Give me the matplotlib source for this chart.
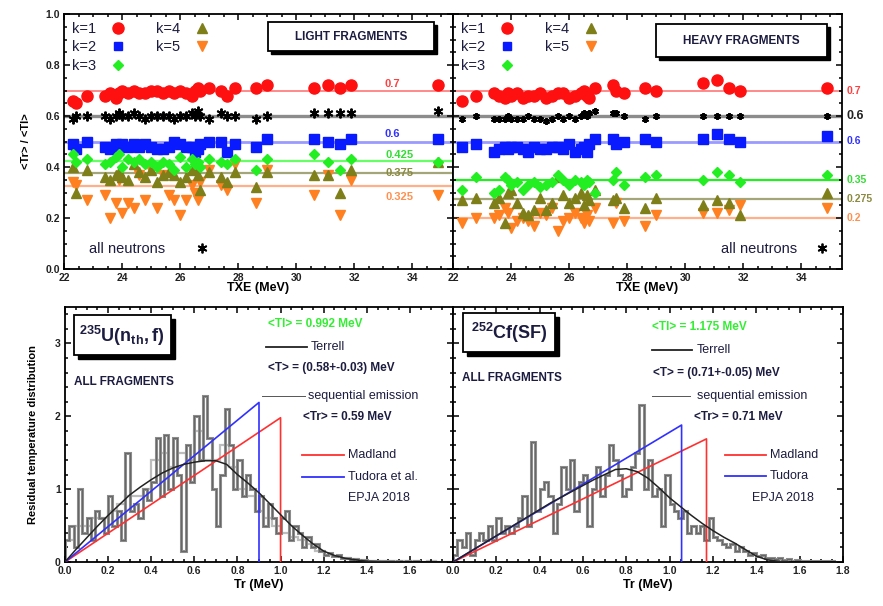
import numpy as np
import matplotlib
matplotlib.use('Agg')
import matplotlib.pyplot as plt
from matplotlib.lines import Line2D
from matplotlib.patches import Rectangle
from matplotlib.ticker import MultipleLocator, FormatStrFormatter

plt.rcParams['font.family'] = ['Liberation Sans', 'DejaVu Sans']
plt.rcParams['mathtext.fontset'] = 'custom'
plt.rcParams['mathtext.rm'] = 'Liberation Sans'
plt.rcParams['mathtext.bf'] = 'Liberation Sans:bold'

W, H = 883, 606

# ---------------- data: top panels (<Tr>/<Tl> vs TXE) ----------------
txe_light = [22.3, 22.4, 22.8, 23.4, 23.6, 23.8, 23.9, 24.0, 24.2, 24.4, 24.6, 24.8,
             25.0, 25.2, 25.4, 25.6, 25.8, 26.0, 26.2, 26.4, 26.5, 26.6, 26.7, 27.0,
             27.4, 27.6, 27.9, 28.6, 29.0, 30.6, 31.1, 31.5, 31.9, 34.9]
light_k1 = [0.66, 0.65, 0.68, 0.68, 0.69, 0.67, 0.69, 0.70, 0.69, 0.70, 0.69, 0.69,
            0.70, 0.70, 0.69, 0.70, 0.69, 0.70, 0.69, 0.68, 0.70, 0.71, 0.70, 0.71,
            0.70, 0.68, 0.71, 0.71, 0.72, 0.71, 0.72, 0.71, 0.72, 0.72]
light_k2 = [0.49, 0.47, 0.50, 0.48, 0.47, 0.49, 0.48, 0.49, 0.48, 0.49, 0.48, 0.49,
            0.48, 0.47, 0.47, 0.48, 0.50, 0.49, 0.48, 0.48, 0.46, 0.47, 0.49, 0.50,
            0.50, 0.46, 0.49, 0.48, 0.51, 0.51, 0.50, 0.49, 0.51, 0.51]
light_k3 = [0.45, 0.42, 0.43, 0.41, 0.42, 0.44, 0.45, 0.40, 0.43, 0.42, 0.43, 0.41,
            0.42, 0.40, 0.42, 0.41, 0.39, 0.44, 0.40, 0.43, 0.41, 0.42, 0.40, 0.43,
            0.42, 0.41, 0.43, 0.39, 0.43, 0.45, 0.42, 0.39, 0.43, 0.42]
light_k4 = [0.40, 0.30, 0.39, 0.36, 0.35, 0.37, 0.38, 0.36, 0.35, 0.41, 0.38, 0.36,
            0.39, 0.34, 0.37, 0.38, 0.37, 0.34, 0.36, 0.39, 0.40, 0.37, 0.31, 0.38,
            0.36, 0.34, 0.38, 0.32, 0.38, 0.37, 0.37, 0.30, 0.39, 0.42]
light_k5 = [0.34, 0.33, 0.27, 0.29, 0.20, 0.26, 0.35, 0.22, 0.26, 0.24, 0.37, 0.27,
            0.39, 0.24, 0.37, 0.29, 0.27, 0.21, 0.27, 0.33, 0.30, 0.27, 0.34, 0.39,
            0.33, 0.31, 0.41, 0.26, 0.39, 0.29, 0.37, 0.21, 0.35, 0.29]
light_all = [0.59, 0.60, 0.60, 0.60, 0.59, 0.60, 0.61, 0.60, 0.60, 0.61, 0.60, 0.59,
             0.60, 0.60, 0.60, 0.60, 0.59, 0.60, 0.60, 0.61, 0.60, 0.62, 0.60, 0.59,
             0.61, 0.60, 0.60, 0.59, 0.60, 0.61, 0.61, 0.61, 0.61, 0.62]

txe_heavy = [22.3, 22.8, 23.4, 23.6, 23.8, 23.9, 24.0, 24.2, 24.4, 24.6, 24.8, 25.0,
             25.2, 25.4, 25.6, 25.8, 26.0, 26.2, 26.4, 26.5, 26.6, 26.7, 26.9, 27.5,
             27.6, 27.9, 28.6, 29.0, 30.6, 31.1, 31.5, 31.9, 34.9]
heavy_k1 = [0.66, 0.68, 0.69, 0.68, 0.67, 0.69, 0.68, 0.69, 0.67, 0.68, 0.68, 0.69,
            0.67, 0.68, 0.69, 0.69, 0.67, 0.68, 0.69, 0.70, 0.68, 0.67, 0.71, 0.72,
            0.70, 0.69, 0.71, 0.70, 0.73, 0.74, 0.71, 0.70, 0.71]
heavy_k2 = [0.48, 0.49, 0.46, 0.47, 0.48, 0.47, 0.48, 0.48, 0.47, 0.46, 0.48, 0.47,
            0.47, 0.48, 0.48, 0.47, 0.49, 0.46, 0.47, 0.48, 0.46, 0.49, 0.51, 0.51,
            0.49, 0.50, 0.51, 0.50, 0.51, 0.53, 0.51, 0.50, 0.52]
heavy_k3 = [0.31, 0.36, 0.30, 0.31, 0.36, 0.35, 0.33, 0.34, 0.31, 0.33, 0.34, 0.32,
            0.33, 0.34, 0.37, 0.35, 0.33, 0.35, 0.34, 0.33, 0.35, 0.34, 0.30, 0.35,
            0.38, 0.33, 0.36, 0.37, 0.35, 0.38, 0.37, 0.34, 0.37]
heavy_k4 = [0.27, 0.28, 0.26, 0.28, 0.18, 0.30, 0.31, 0.26, 0.22, 0.21, 0.23, 0.28,
            0.23, 0.26, 0.36, 0.29, 0.26, 0.28, 0.30, 0.25, 0.29, 0.27, 0.31, 0.27,
            0.28, 0.24, 0.24, 0.28, 0.25, 0.27, 0.26, 0.21, 0.30]
heavy_k5 = [0.18, 0.20, 0.20, 0.21, 0.24, 0.22, 0.16, 0.19, 0.20, 0.19, 0.17, 0.22,
            0.21, 0.24, 0.15, 0.19, 0.20, 0.22, 0.20, 0.18, 0.21, 0.19, 0.24, 0.18,
            0.26, 0.19, 0.17, 0.21, 0.22, 0.22, 0.23, 0.25, 0.24]
heavy_all = [0.59, 0.60, 0.59, 0.59, 0.59, 0.60, 0.59, 0.59, 0.59, 0.60, 0.59, 0.59,
             0.58, 0.59, 0.60, 0.59, 0.60, 0.59, 0.60, 0.61, 0.60, 0.61, 0.62, 0.61,
             0.61, 0.60, 0.59, 0.60, 0.60, 0.60, 0.60, 0.60, 0.60]

# mean ratio lines: k=1, all, k=2, k=3, k=4, k=5
mean_light = [0.7, 0.6, 0.5, 0.425, 0.375, 0.325]
mean_heavy = [0.7, 0.6, 0.5, 0.35, 0.275, 0.2]
lbl_light = ['0.7', '0.6', '0.425', '0.375', '0.325']
lbl_heavy = ['0.7', '0.6', '0.6', '0.35', '0.275', '0.2']

# ---------------- data: bottom panels (residual temperature) ----------------
bin_w = 0.02
hist_u = [0.30, 0.50, 0.20, 1.00, 0.40, 0.60, 0.30, 0.70, 0.60, 0.40,
          0.90, 0.50, 0.70, 0.30, 1.50, 0.70, 0.80, 0.60, 1.00, 0.85,
          1.10, 1.70, 0.90, 1.75, 1.00, 1.70, 1.20, 0.15, 1.60, 1.10,
          2.00, 1.40, 2.28, 1.70, 1.00, 0.50, 1.20, 2.10, 1.60, 1.00,
          1.40, 0.90, 1.20, 1.00, 0.70, 0.90, 0.50, 0.80, 0.60, 0.40,
          0.60, 0.70, 0.30, 0.50, 0.40, 0.20, 0.35, 0.20, 0.25, 0.15,
          0.10, 0.12, 0.08, 0.10, 0.05, 0.06, 0.03, 0.04, 0.02, 0.03,
          0.02, 0.01, 0.02, 0.01, 0.01, 0.01, 0.00, 0.01, 0.00, 0.01,
          0.00, 0.01, 0.00, 0.00, 0.00, 0.00, 0.00, 0.00, 0.00, 0.00]
hist_u_light = [0.30, 0.50, 0.50, 0.60, 0.60, 0.70, 0.80, 0.90, 0.90, 1.00,
                1.40, 1.50, 1.30, 1.50, 1.40, 1.80, 1.40, 1.40, 1.60, 1.30,
                1.00, 0.90, 0.70, 0.60, 0.50, 0.40, 0.35, 0.30, 0.25, 0.15,
                0.10, 0.08, 0.06, 0.04, 0.03, 0.02, 0.02, 0.01, 0.01, 0.01,
                0.01, 0.00, 0.01, 0.00, 0.00]
hist_cf = [0.10, 0.30, 0.20, 0.40, 0.10, 0.30, 0.40, 0.30, 0.50, 0.30,
           0.60, 0.40, 0.50, 0.40, 0.50, 0.60, 0.90, 0.50, 1.65, 0.70,
           1.00, 1.10, 0.90, 0.40, 0.80, 1.30, 1.00, 1.40, 0.70, 1.10,
           1.20, 0.50, 1.00, 1.30, 0.90, 1.20, 1.60, 1.40, 1.20, 0.90,
           1.00, 1.30, 1.50, 2.15, 1.00, 1.40, 0.90, 1.00, 0.50, 1.20,
           0.80, 0.70, 0.60, 0.70, 0.40, 0.50, 0.40, 0.50, 0.30, 0.60,
           0.35, 0.30, 0.25, 0.20, 0.25, 0.15, 0.20, 0.15, 0.10, 0.12,
           0.08, 0.10, 0.05, 0.06, 0.04, 0.05, 0.03, 0.04, 0.02, 0.03,
           0.02, 0.02, 0.01, 0.02, 0.01, 0.01, 0.01, 0.01, 0.00, 0.00]

terrell_x = [0, 0.05, 0.1, 0.15, 0.2, 0.25, 0.3, 0.35, 0.4, 0.45, 0.5, 0.55, 0.6,
             0.65, 0.7, 0.75, 0.8, 0.85, 0.9, 0.95, 1.0, 1.05, 1.1, 1.15, 1.2,
             1.25, 1.3, 1.35, 1.4, 1.45, 1.5, 1.55]
terrell_u = [0, 0.17, 0.33, 0.49, 0.64, 0.78, 0.92, 1.03, 1.13, 1.22, 1.29, 1.34, 1.37,
             1.39, 1.39, 1.34, 1.20, 1.08, 0.95, 0.80, 0.65, 0.50, 0.37, 0.25, 0.15,
             0.09, 0.05, 0.03, 0.01, 0.005, 0.0, 0.0]
terrell_cf = [0, 0.09, 0.18, 0.27, 0.36, 0.45, 0.54, 0.63, 0.72, 0.81, 0.89, 0.97, 1.05,
              1.13, 1.20, 1.27, 1.28, 1.24, 1.15, 1.02, 0.88, 0.76, 0.64, 0.53, 0.43,
              0.34, 0.26, 0.17, 0.08, 0.03, 0.01, 0.0]

# sequential emission triangles: (Tr max, peak height)
madland_u = (1.0, 1.98)
tudora_u = (0.9, 2.19)
madland_cf = (1.17, 1.69)
tudora_cf = (1.055, 1.88)

RED, BLUE, GREEN, OLIVE, ORANGE = '#ff1010', '#0a1aff', '#22ee22', '#7f7f1a', '#ff8020'
NAVY = '#1c1c40'

fig = plt.figure(figsize=(W / 100, H / 100), dpi=100)


def rect(l, t, r, b):
    return [l / W, 1 - b / H, (r - l) / W, (b - t) / H]


def fp(x, y):
    return x / W, 1 - y / H


ax_l = fig.add_axes(rect(64, 14, 453, 269))
ax_h = fig.add_axes(rect(453, 14, 842, 269))
ax_u = fig.add_axes(rect(65, 307, 453, 562))
ax_c = fig.add_axes(rect(453, 307, 843, 562))

for ax in (ax_l, ax_h, ax_u, ax_c):
    ax.tick_params(which='both', direction='in', top=True, right=True,
                   labelsize=7.5, labelcolor='#222222', width=1.1, pad=3)
    ax.tick_params(which='major', length=4)
    ax.tick_params(which='minor', length=2.5)
    for s in ax.spines.values():
        s.set_linewidth(1.3)

line_cols = ['#ff8a8a', '#8c8c8c', '#9a9aff', None, '#a5a57a', '#ffb08a']


def top_panel(ax, txe, k1, k2, k3, k4, k5, alln, means, green_col, all_ms):
    for v, c, lw in zip(means, line_cols, [1.4, 2.4, 2.0, 1.6, 1.6, 1.6]):
        ax.axhline(v, color=c if c else green_col, lw=lw, zorder=1)
    ax.plot(txe, alln, ls='none', marker=(6, 2, 0), ms=all_ms, mew=1.4, color='k', zorder=3)
    ax.plot(txe, k1, ls='none', marker='o', ms=8, color=RED, zorder=3)
    ax.plot(txe, k2, ls='none', marker='s', ms=6.5, color=BLUE, zorder=3)
    ax.plot(txe, k5, ls='none', marker='v', ms=7, color=ORANGE, zorder=3)
    ax.plot(txe, k4, ls='none', marker='^', ms=7, color=OLIVE, zorder=3)
    ax.plot(txe, k3, ls='none', marker='D', ms=5, color=GREEN, zorder=3)
    ax.set_xlim(22, 35.4)
    ax.set_ylim(0, 1.0)
    ax.xaxis.set_major_locator(MultipleLocator(2))
    ax.xaxis.set_minor_locator(MultipleLocator(0.5))
    ax.yaxis.set_major_locator(MultipleLocator(0.2))
    ax.yaxis.set_minor_locator(MultipleLocator(0.05))
    ax.yaxis.set_major_formatter(FormatStrFormatter('%.1f'))
    ax.set_xlabel('TXE (MeV)', fontsize=9, fontweight='bold', labelpad=-1)
    hs = [Line2D([], [], ls='none', marker='o', ms=8, color=RED),
          Line2D([], [], ls='none', marker='s', ms=6, color=BLUE),
          Line2D([], [], ls='none', marker='D', ms=5, color=GREEN),
          Line2D([], [], ls='none', marker='^', ms=7, color=OLIVE),
          Line2D([], [], ls='none', marker='v', ms=7, color=ORANGE)]
    leg = ax.legend(hs, ['k=1', 'k=2', 'k=3', 'k=4', 'k=5'], ncol=2, loc='upper left',
                    bbox_to_anchor=(-0.012, 1.02), markerfirst=False, frameon=False,
                    fontsize=10.5, handlelength=1.2, handletextpad=0.9,
                    columnspacing=2.0, labelspacing=0.3, labelcolor=NAVY)
    ax.add_artist(leg)
    return leg


top_panel(ax_l, txe_light, light_k1, light_k2, light_k3, light_k4, light_k5,
          light_all, mean_light, '#66ff66', 7)
top_panel(ax_h, txe_heavy, heavy_k1, heavy_k2, heavy_k3, heavy_k4, heavy_k5,
          heavy_all, mean_heavy, '#22ee22', 5)
ax_h.tick_params(labelleft=False)

h_all = [Line2D([], [], ls='none', marker=(6, 2, 0), ms=7, mew=1.3, color='k')]
ax_l.legend(h_all, ['all neutrons'], loc='lower left', bbox_to_anchor=(0.03, 0.0),
            frameon=False, markerfirst=False, fontsize=10.5, handlelength=1.5,
            handletextpad=1.8, labelcolor=NAVY)
ax_h.legend(h_all, ['all neutrons'], loc='lower right', bbox_to_anchor=(1.0, 0.0),
            frameon=False, markerfirst=False, fontsize=10.5, handlelength=1.0,
            handletextpad=1.2, labelcolor=NAVY)

ax_l.set_ylabel('<Tr> / <Tl>', fontsize=8, fontweight='bold', labelpad=10)

# value labels of the mean lines
light_lbl_pos = [(392, 84), (392, 134), (400, 155), (400, 173), (399, 197)]
light_lbl_col = ['#ff4040', '#3030ff', '#33dd33', '#8a8a40', '#ff9050']
for s, (x, y), c in zip(lbl_light, light_lbl_pos, light_lbl_col):
    fig.text(*fp(x, y), s, color=c, fontsize=8, fontweight='bold', ha='center', va='center')
for s, v, c, fs in zip(lbl_heavy, mean_heavy,
                       ['#ff4040', '#222222', '#3030ff', '#33dd33', '#8a8a40', '#ff9050'],
                       [7.5, 9, 7.5, 7.5, 7.5, 7.5]):
    ax_h.text(1.012, v, s, transform=ax_h.get_yaxis_transform(), color=c, fontsize=fs,
              fontweight='bold', ha='left', va='center', clip_on=False)


def shadow_box(l, t, r, b, off=3):
    fig.add_artist(Rectangle(fp(l + off, b + off), (r - l) / W, (b - t) / H,
                             transform=fig.transFigure, facecolor='black', edgecolor='black',
                             zorder=5))
    fig.add_artist(Rectangle(fp(l, b), (r - l) / W, (b - t) / H, transform=fig.transFigure,
                             facecolor='white', edgecolor='black', lw=1.3, zorder=6))


shadow_box(268, 22, 434, 51)
fig.text(*fp(351, 37), 'LIGHT FRAGMENTS', fontsize=8.5, fontweight='bold',
         ha='center', va='center', zorder=7, color=NAVY)
shadow_box(656, 24, 827, 57)
fig.text(*fp(741, 41), 'HEAVY FRAGMENTS', fontsize=8.5, fontweight='bold',
         ha='center', va='center', zorder=7, color=NAVY)


# ---------------- bottom panels ----------------
def bottom_panel(ax, hist, hist2, terrell, madland, tudora):
    edges = np.round(np.arange(len(hist) + 1) * bin_w, 4)
    if hist2 is not None:
        edges2 = np.round(np.arange(len(hist2) + 1) * 0.04, 4)
        ax.stairs(hist2, edges2, color='#bdbdbd', lw=1.6, zorder=1)
    ax.stairs(hist, edges, color='#8c8c8c', lw=2.2, zorder=2)
    ax.stairs(hist, edges, color='#606060', lw=0.6, zorder=2)
    ax.plot([0, madland[0], madland[0]], [0, madland[1], 0], color='#ff3030', lw=1.2, zorder=3)
    ax.plot([0, tudora[0], tudora[0]], [0, tudora[1], 0], color='#3030ff', lw=1.2, zorder=3)
    ax.plot(terrell_x, terrell, color='#222222', lw=1.1, zorder=4)
    ax.set_xlim(0, 1.8)
    ax.set_ylim(0, 3.5)
    ax.xaxis.set_major_locator(MultipleLocator(0.2))
    ax.xaxis.set_minor_locator(MultipleLocator(0.05))
    ax.xaxis.set_major_formatter(FormatStrFormatter('%.1f'))
    ax.yaxis.set_major_locator(MultipleLocator(1))
    ax.yaxis.set_minor_locator(MultipleLocator(0.2))
    ax.set_xlabel('Tr (MeV)', fontsize=9, fontweight='bold', labelpad=2)


bottom_panel(ax_u, hist_u, hist_u_light, terrell_u, madland_u, tudora_u)
bottom_panel(ax_c, hist_cf, None, terrell_cf, madland_cf, tudora_cf)
ax_u.set_xticks(np.round(np.arange(0, 1.61, 0.2), 1))
ax_c.tick_params(labelleft=False)
ax_u.set_ylabel('Residual temperature distribution', fontsize=8, fontweight='bold', labelpad=12)

for ax in (ax_l, ax_h, ax_u, ax_c):
    for lab in ax.get_xticklabels() + ax.get_yticklabels():
        lab.set_fontweight('bold')

shadow_box(74, 315, 171, 355, off=4)
fig.text(*fp(122, 336), r'$\mathbf{^{235}U(n_{th},f)}$', fontsize=13, ha='center',
         va='center', zorder=7, color=NAVY)
shadow_box(463, 313, 555, 352, off=4)
fig.text(*fp(509, 333), r'$\mathbf{^{252}Cf(SF)}$', fontsize=13, ha='center',
         va='center', zorder=7, color=NAVY)

fig.text(*fp(74, 382), 'ALL FRAGMENTS', fontsize=8.5, fontweight='bold', va='center', color=NAVY)
fig.text(*fp(462, 378), 'ALL FRAGMENTS', fontsize=8.5, fontweight='bold', va='center', color=NAVY)


def seg(x0, x1, y, c, lw):
    fig.add_artist(Line2D([x0 / W, x1 / W], [1 - y / H, 1 - y / H], color=c, lw=lw,
                          transform=fig.transFigure))


def txt(x, y, s, c=NAVY, bold=False, fs=9):
    fig.text(*fp(x, y), s, color=c, fontsize=fs, fontweight='bold' if bold else 'normal',
             va='center', ha='left')


# U legend block
txt(268, 324, '<Tl> = 0.992 MeV', '#33ee33', True, 8.5)
seg(266, 307, 347, '#222222', 1.3)
txt(311, 347, 'Terrell', fs=9)
txt(268, 368, '<T> = (0.58+-0.03) MeV', bold=True, fs=8.5)
seg(262, 305, 396, '#555555', 0.7)
txt(308, 396, 'sequential emission', fs=9)
txt(303, 417, '<Tr> = 0.59 MeV', bold=True, fs=8.5)
seg(302, 344, 455, '#ff3030', 1.3)
txt(348, 455, 'Madland', fs=9)
seg(302, 344, 477, '#3030ff', 1.3)
txt(348, 477, 'Tudora et al.', fs=9)
txt(348, 498, 'EPJA 2018', fs=9)

# Cf legend block
txt(652, 327, '<Tl> = 1.175 MeV', '#33ee33', True, 8.5)
seg(652, 692, 350, '#222222', 1.3)
txt(697, 350, 'Terrell', fs=9)
txt(653, 373, '<T> = (0.71+-0.05) MeV', bold=True, fs=8.5)
seg(652, 690, 396, '#555555', 0.7)
txt(697, 396, 'sequential emission', fs=9)
txt(694, 417, '<Tr> = 0.71 MeV', bold=True, fs=8.5)
seg(725, 766, 455, '#ff3030', 1.3)
txt(770, 455, 'Madland', fs=9)
seg(725, 766, 476, '#3030ff', 1.3)
txt(770, 476, 'Tudora', fs=9)
txt(752, 498, 'EPJA 2018', fs=9)

fig.savefig('out.png', dpi=100)
